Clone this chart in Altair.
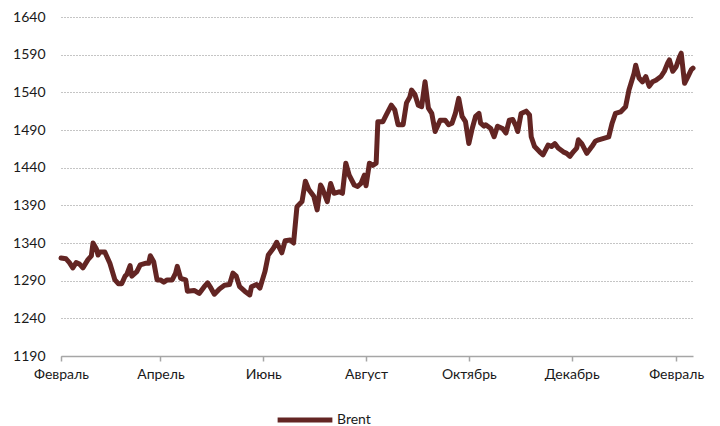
import altair as alt
import pandas as pd

# Daily Brent quotes, Feb 2018 – Feb 2019
dates = [
    "2018-02-01", "2018-02-04", "2018-02-06", "2018-02-08", "2018-02-10", "2018-02-12", "2018-02-14",
    "2018-02-17", "2018-02-19", "2018-02-20", "2018-02-22", "2018-02-23", "2018-02-24", "2018-02-27",
    "2018-03-02", "2018-03-05", "2018-03-07", "2018-03-09", "2018-03-11", "2018-03-12", "2018-03-14",
    "2018-03-15", "2018-03-18", "2018-03-20", "2018-03-23", "2018-03-25", "2018-03-26", "2018-03-28",
    "2018-03-30",
    "2018-04-01", "2018-04-03", "2018-04-05", "2018-04-08", "2018-04-10", "2018-04-11", "2018-04-13",
    "2018-04-16", "2018-04-17", "2018-04-21", "2018-04-24", "2018-04-27", "2018-04-29",
    "2018-05-01", "2018-05-03", "2018-05-06", "2018-05-09", "2018-05-12", "2018-05-14", "2018-05-16",
    "2018-05-18", "2018-05-21", "2018-05-24", "2018-05-25", "2018-05-28", "2018-05-30",
    "2018-06-02", "2018-06-04", "2018-06-07", "2018-06-09", "2018-06-12", "2018-06-14", "2018-06-17",
    "2018-06-19", "2018-06-21", "2018-06-24", "2018-06-26", "2018-06-28",
    "2018-07-01", "2018-07-03", "2018-07-05", "2018-07-06", "2018-07-09", "2018-07-11", "2018-07-13",
    "2018-07-16", "2018-07-18", "2018-07-20", "2018-07-22", "2018-07-25", "2018-07-27", "2018-07-29",
    "2018-07-31",
    "2018-08-01", "2018-08-03", "2018-08-05", "2018-08-07", "2018-08-08", "2018-08-11", "2018-08-13",
    "2018-08-16", "2018-08-18", "2018-08-20", "2018-08-23", "2018-08-25", "2018-08-27", "2018-08-28",
    "2018-08-30",
    "2018-09-01", "2018-09-03", "2018-09-05", "2018-09-07", "2018-09-09", "2018-09-11", "2018-09-14",
    "2018-09-17", "2018-09-19", "2018-09-21", "2018-09-23", "2018-09-25", "2018-09-27", "2018-09-29",
    "2018-10-01", "2018-10-03", "2018-10-05", "2018-10-07", "2018-10-08", "2018-10-10", "2018-10-11",
    "2018-10-14", "2018-10-16", "2018-10-18", "2018-10-21", "2018-10-23", "2018-10-25", "2018-10-27",
    "2018-10-29", "2018-10-30",
    "2018-11-01", "2018-11-04", "2018-11-06", "2018-11-07", "2018-11-09", "2018-11-12", "2018-11-14",
    "2018-11-17", "2018-11-19", "2018-11-21", "2018-11-23", "2018-11-26", "2018-11-28", "2018-11-30",
    "2018-12-02", "2018-12-04", "2018-12-05", "2018-12-07", "2018-12-10", "2018-12-13", "2018-12-15",
    "2018-12-17", "2018-12-20", "2018-12-23", "2018-12-25", "2018-12-27", "2018-12-30",
    "2019-01-02", "2019-01-04", "2019-01-07", "2019-01-08", "2019-01-10", "2019-01-12", "2019-01-14",
    "2019-01-16", "2019-01-18", "2019-01-20", "2019-01-23", "2019-01-25", "2019-01-27", "2019-01-28",
    "2019-01-30",
    "2019-02-01", "2019-02-03", "2019-02-04", "2019-02-06", "2019-02-08", "2019-02-10", "2019-02-11",
]

brent = [
    1320, 1319, 1314, 1307, 1314, 1312, 1307, 1318, 1323, 1340, 1332, 1324, 1328, 1328,
    1313, 1291, 1286, 1286, 1296, 1298, 1310, 1296, 1302, 1311, 1313, 1313, 1323, 1315, 1291,
    1291, 1288, 1291, 1291, 1300, 1309, 1293, 1291, 1276, 1277, 1273, 1282, 1287,
    1280, 1272, 1279, 1284, 1285, 1300, 1296, 1282, 1276, 1271, 1282, 1285, 1280,
    1302, 1324, 1333, 1341, 1327, 1343, 1344, 1340, 1388, 1395, 1422, 1411,
    1402, 1384, 1417, 1413, 1395, 1419, 1406, 1408, 1406, 1446, 1430, 1417, 1415, 1419, 1430,
    1416, 1446, 1443, 1446, 1501, 1501, 1510, 1523, 1517, 1497, 1497, 1526, 1534, 1543, 1537,
    1523, 1521, 1554, 1519, 1512, 1488, 1503, 1503, 1497, 1499, 1512, 1532, 1508, 1501,
    1472, 1492, 1508, 1512, 1499, 1495, 1497, 1492, 1481, 1495, 1492, 1486, 1503, 1504, 1495, 1488,
    1512, 1515, 1510, 1481, 1468, 1461, 1457, 1470, 1468, 1472, 1466, 1461, 1459, 1455,
    1461, 1466, 1477, 1472, 1459, 1468, 1475, 1477, 1479, 1481, 1499, 1512, 1514,
    1521, 1543, 1565, 1576, 1559, 1554, 1561, 1548, 1554, 1556, 1561, 1568, 1579, 1583, 1568,
    1574, 1587, 1592, 1552, 1561, 1570, 1572,
]

series_name = "Brent"
month_names = ["Январь", "Февраль", "Март", "Апрель", "Май", "Июнь", "Июль",
               "Август", "Сентябрь", "Октябрь", "Ноябрь", "Декабрь"]
y_ticks = list(range(1190, 1641, 50))
x_ticks = [(2018, 2), (2018, 4), (2018, 6), (2018, 8), (2018, 10), (2018, 12), (2019, 2)]

df = pd.DataFrame({"date": dates, "value": brent, "series": series_name})

FONT = "Lato"
TEXT = "#1a1a1a"
LINE = "#632523"

month_expr = "[" + ",".join(f"'{m}'" for m in month_names) + "][utcmonth(datum.value)]"

chart = (
    alt.Chart(df)
    .mark_line(strokeWidth=5, strokeJoin="round", strokeCap="round")
    .encode(
        x=alt.X(
            "date:T",
            scale=alt.Scale(
                type="utc",
                domain=[alt.DateTime(year=2018, month=2, date=1, utc=True),
                        alt.DateTime(year=2019, month=2, date=11, utc=True)],
            ),
            axis=alt.Axis(
                title=None,
                values=[alt.DateTime(year=y, month=m, date=1, utc=True) for y, m in x_ticks],
                labelExpr=month_expr,
                grid=False,
                domainColor="#a6a6a6",
                domainWidth=1.5,
                tickColor="#a6a6a6",
                tickWidth=1.5,
                tickSize=5,
                labelPadding=6,
                labelFont=FONT,
                labelFontSize=14,
                labelColor=TEXT,
                labelFlush=False,
                labelOverlap=False,
            ),
        ),
        y=alt.Y(
            "value:Q",
            scale=alt.Scale(domain=[1190, 1640], nice=False, zero=False),
            axis=alt.Axis(
                title=None,
                values=y_ticks,
                format="d",
                domain=False,
                ticks=False,
                gridColor="#8a8a8a",
                gridDash=[1, 2],
                gridWidth=1,
                labelPadding=16,
                labelFont=FONT,
                labelFontSize=14,
                labelColor=TEXT,
            ),
        ),
        color=alt.Color(
            "series:N",
            scale=alt.Scale(range=[LINE]),
            legend=alt.Legend(
                title=None,
                orient="none",
                legendX=214,
                legendY=373,
                symbolType="stroke",
                symbolSize=3000,
                symbolStrokeWidth=5,
                labelFont=FONT,
                labelFontSize=14,
                labelColor=TEXT,
                labelOffset=2,
            ),
        ),
    )
    .properties(
        width=632,
        height=339,
        autosize=alt.AutoSizeParams(type="none"),
        padding={"left": 61, "top": 17, "right": 27, "bottom": 70},
    )
    .configure_view(stroke=None)
)

chart.save("out.html", embed_options={"renderer": "svg", "actions": False})
